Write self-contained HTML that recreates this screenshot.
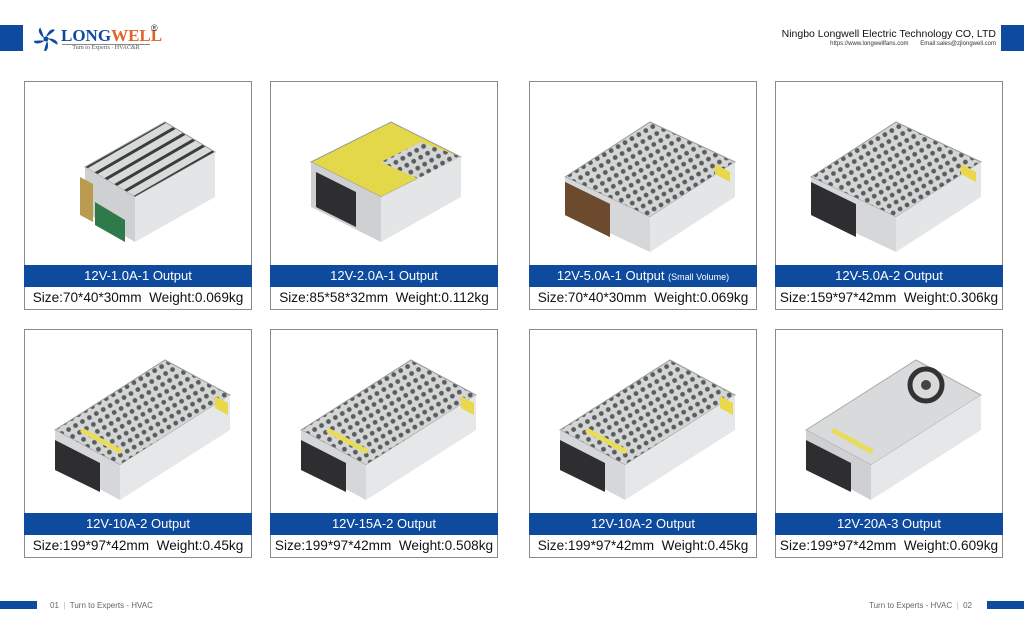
<!DOCTYPE html>
<html><head><meta charset="utf-8">
<style>
*{margin:0;padding:0;box-sizing:border-box}
body{width:1024px;height:634px;background:#fff;position:relative;overflow:hidden;font-family:"Liberation Sans",sans-serif}
.abs{position:absolute}
.img{position:absolute;border:1px solid #8a8a8a;background:#fff;width:228px;height:185px}
.tt{position:absolute;background:#0e4a9e;color:#fff;width:228px;height:22px;font-size:13px;line-height:22px;text-align:center}
.sz{position:absolute;border:1px solid #8a8a8a;border-top:none;width:228px;height:23px;font-size:13.6px;line-height:22px;text-align:center;color:#111;white-space:nowrap}
svg.p{position:absolute;left:0;top:0}
</style></head><body>
<svg width="0" height="0" style="position:absolute">
<defs>
<pattern id="holes" width="8" height="8" patternUnits="userSpaceOnUse" patternTransform="rotate(-30)">
<rect width="8" height="8" fill="#d4d6d6"/><circle cx="4" cy="4" r="2.4" fill="#5a5d60"/></pattern>
<pattern id="slots" width="10" height="10" patternUnits="userSpaceOnUse" patternTransform="rotate(-30)">
<rect width="10" height="10" fill="#d8d9d9"/><rect x="0" y="3" width="10" height="3" fill="#3a3c3e"/></pattern>
<g id="psu">
<polygon points="35,95 120,40 205,80 120,135" fill="url(#holes)" stroke="#999"/>
<polygon points="35,95 120,135 120,170 35,130" fill="#d6d7d8"/>
<polygon points="120,135 205,80 205,115 120,170" fill="#e4e5e6"/>
<polygon points="35,100 80,122 80,155 35,133" fill="#2e2e30"/>
<polygon points="185,82 200,90 200,100 185,92" fill="#e8d84a"/>
</g>
<g id="psu2">
<polygon points="30,100 140,30 205,65 95,135" fill="url(#holes)" stroke="#999"/>
<polygon points="30,100 95,135 95,170 30,135" fill="#d6d7d8"/>
<polygon points="95,135 205,65 205,100 95,170" fill="#e6e7e8"/>
<polygon points="30,110 75,133 75,162 30,140" fill="#2e2e30"/>
<polygon points="55,102 95,124 98,120 58,98" fill="#e9dc5a"/>
<polygon points="190,66 203,73 203,85 190,78" fill="#e8d84a"/>
</g>
</defs></svg>

<div class="abs" style="left:0;top:25px;width:23px;height:26px;background:#0e4a9e"></div>
<div class="abs" style="left:1001px;top:25px;width:23px;height:26px;background:#0e4a9e"></div>
<svg class="abs" style="left:34px;top:27px" width="24" height="24" viewBox="-12 -12 24 24">
<g fill="#0e4a9e"><path d="M0,-2 C2,-8 6,-11 9,-9 C6,-6 3,-4 0,-2Z"/><path d="M0,-2 C2,-8 6,-11 9,-9 C6,-6 3,-4 0,-2Z" transform="rotate(72)"/><path d="M0,-2 C2,-8 6,-11 9,-9 C6,-6 3,-4 0,-2Z" transform="rotate(144)"/><path d="M0,-2 C2,-8 6,-11 9,-9 C6,-6 3,-4 0,-2Z" transform="rotate(216)"/><path d="M0,-2 C2,-8 6,-11 9,-9 C6,-6 3,-4 0,-2Z" transform="rotate(288)"/><circle r="2.5"/></g></svg>
<div class="abs" style="left:61px;top:26px;font-family:'Liberation Serif',serif;font-weight:bold;font-size:17px;color:#0e4a9e">LONG<span style="color:#e0632a">WELL</span></div>
<div class="abs" style="left:151px;top:23px;font-size:9px;color:#333">®</div>
<div class="abs" style="left:62px;top:44px;width:88px;border-top:1px solid #888;font-size:6px;color:#555;text-align:center;font-family:'Liberation Serif',serif">Turn to Experts · HVAC&amp;R</div>

<div class="abs" style="right:28px;top:28px;font-size:10.5px;color:#111;white-space:nowrap">Ningbo Longwell Electric Technology CO, LTD</div>
<div class="abs" style="right:28px;top:41px;font-size:6px;color:#333;white-space:nowrap">https://www.longwellfans.com &nbsp; &nbsp; &nbsp; Email:sales@zjlongwell.com</div>

<!-- Row 1 -->
<div class="img" style="left:24px;top:81px"><svg class="p" width="228" height="185"><polygon points="60,85 140,40 190,70 110,115" fill="url(#slots)" stroke="#999"/><polygon points="60,85 110,115 110,160 60,130" fill="#cfd0d1"/><polygon points="110,115 190,70 190,115 110,160" fill="#e4e5e6"/><polygon points="70,120 100,138 100,160 70,143" fill="#2f7a4a"/><polygon points="55,95 68,102 68,140 55,133" fill="#b99a4e"/></svg></div>
<div class="tt" style="left:24px;top:265px">12V-1.0A-1 Output</div>
<div class="sz" style="left:24px;top:287px">Size:70*40*30mm&nbsp; Weight:0.069kg</div>

<div class="img" style="left:270px;top:81px"><svg class="p" width="228" height="185"><polygon points="40,80 120,40 190,75 110,115" fill="#e2d84a" stroke="#999"/><polygon points="110,80 150,60 190,75 150,98" fill="url(#holes)"/><polygon points="40,80 110,115 110,160 40,125" fill="#cfd0d1"/><polygon points="110,115 190,75 190,115 110,160" fill="#e4e5e6"/><polygon points="45,90 85,110 85,145 45,125" fill="#2e2e30"/></svg></div>
<div class="tt" style="left:270px;top:265px">12V-2.0A-1 Output</div>
<div class="sz" style="left:270px;top:287px">Size:85*58*32mm&nbsp; Weight:0.112kg</div>

<div class="img" style="left:529px;top:81px"><svg class="p" width="228" height="185"><use href="#psu"/><polygon points="35,100 80,122 80,155 35,133" fill="#6b4a2e"/></svg></div>
<div class="tt" style="left:529px;top:265px">12V-5.0A-1 Output <span style="font-size:9px">(Small Volume)</span></div>
<div class="sz" style="left:529px;top:287px">Size:70*40*30mm&nbsp; Weight:0.069kg</div>

<div class="img" style="left:775px;top:81px"><svg class="p" width="228" height="185"><use href="#psu"/></svg></div>
<div class="tt" style="left:775px;top:265px">12V-5.0A-2 Output</div>
<div class="sz" style="left:775px;top:287px">Size:159*97*42mm&nbsp; Weight:0.306kg</div>

<!-- Row 2 -->
<div class="img" style="left:24px;top:329px"><svg class="p" width="228" height="185"><use href="#psu2"/></svg></div>
<div class="tt" style="left:24px;top:513px">12V-10A-2 Output</div>
<div class="sz" style="left:24px;top:535px">Size:199*97*42mm&nbsp; Weight:0.45kg</div>

<div class="img" style="left:270px;top:329px"><svg class="p" width="228" height="185"><use href="#psu2"/></svg></div>
<div class="tt" style="left:270px;top:513px">12V-15A-2 Output</div>
<div class="sz" style="left:270px;top:535px">Size:199*97*42mm&nbsp; Weight:0.508kg</div>

<div class="img" style="left:529px;top:329px"><svg class="p" width="228" height="185"><use href="#psu2"/></svg></div>
<div class="tt" style="left:529px;top:513px">12V-10A-2 Output</div>
<div class="sz" style="left:529px;top:535px">Size:199*97*42mm&nbsp; Weight:0.45kg</div>

<div class="img" style="left:775px;top:329px"><svg class="p" width="228" height="185"><polygon points="30,100 140,30 205,65 95,135" fill="#d9dadb" stroke="#aaa"/><polygon points="30,100 95,135 95,170 30,135" fill="#cfd0d1"/><polygon points="95,135 205,65 205,100 95,170" fill="#e6e7e8"/><polygon points="30,110 75,133 75,162 30,140" fill="#2e2e30"/><circle cx="150" cy="55" r="16" fill="none" stroke="#333" stroke-width="5"/><circle cx="150" cy="55" r="5" fill="#444"/><polygon points="55,102 95,124 98,120 58,98" fill="#e9dc5a"/></svg></div>
<div class="tt" style="left:775px;top:513px">12V-20A-3 Output</div>
<div class="sz" style="left:775px;top:535px">Size:199*97*42mm&nbsp; Weight:0.609kg</div>

<!-- footer -->
<div class="abs" style="left:0;top:601px;width:37px;height:8px;background:#0e4a9e"></div>
<div class="abs" style="left:50px;top:601px;font-size:8px;color:#666;white-space:nowrap">01 <span style="color:#bbb">&nbsp;|&nbsp;</span> Turn to Experts - HVAC</div>
<div class="abs" style="right:52px;top:601px;font-size:8px;color:#666;white-space:nowrap">Turn to Experts - HVAC <span style="color:#bbb">&nbsp;|&nbsp;</span> 02</div>
<div class="abs" style="left:987px;top:601px;width:37px;height:8px;background:#0e4a9e"></div>
</body></html>
